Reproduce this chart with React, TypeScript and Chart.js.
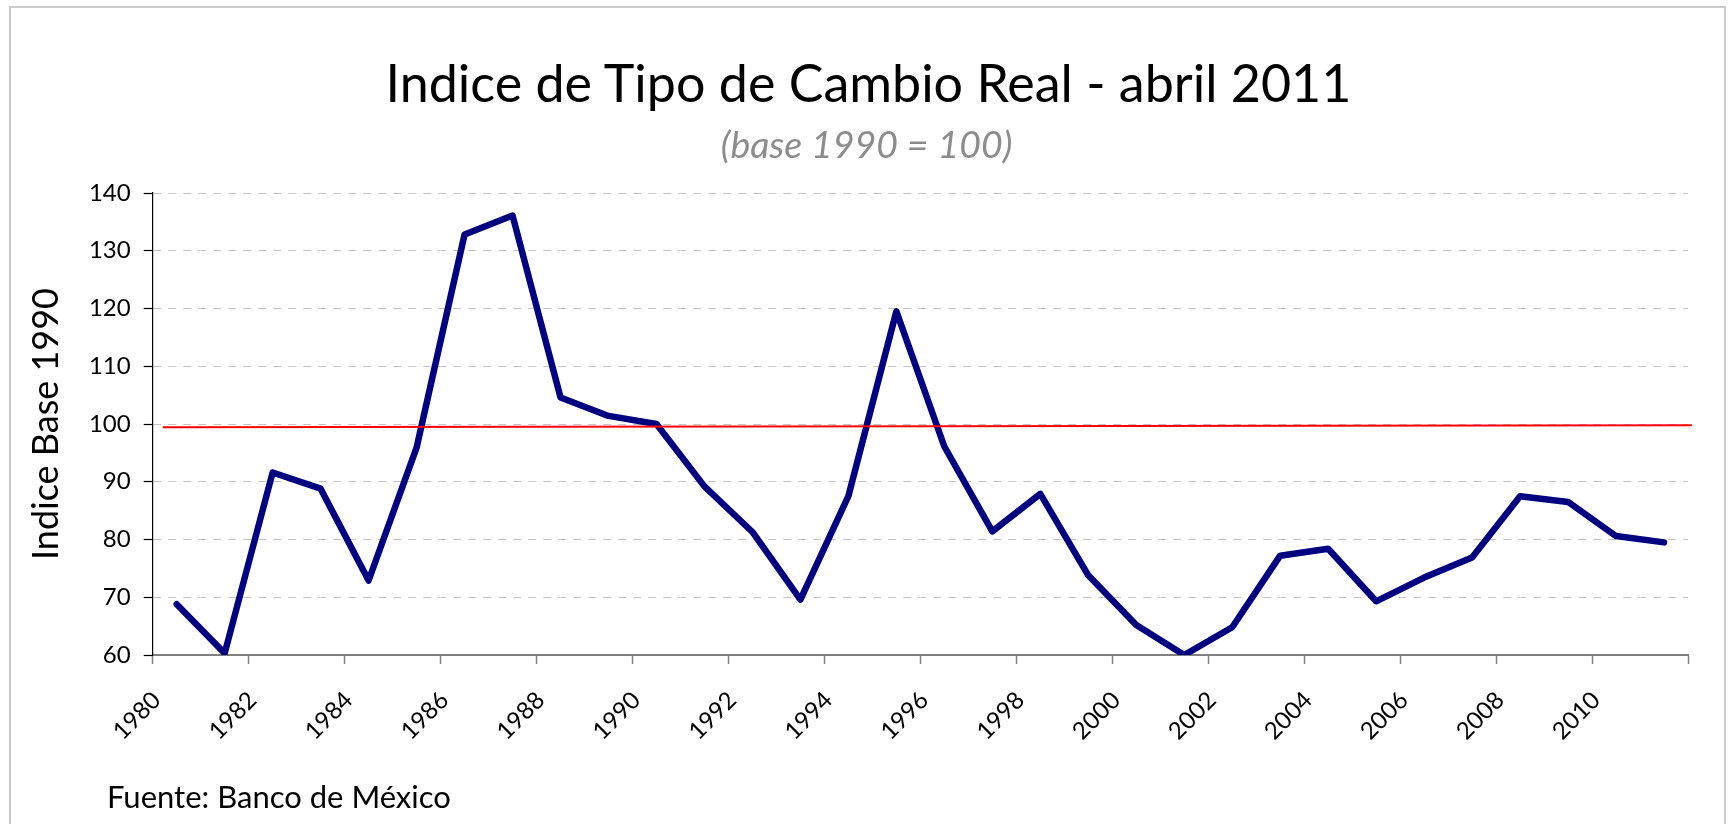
import React, { useEffect, useRef } from 'react';
import { Chart, registerables } from 'chart.js';

Chart.register(...registerables);

// ---- Data ----
const years: number[] = [
  1980, 1981, 1982, 1983, 1984, 1985, 1986, 1987, 1988, 1989,
  1990, 1991, 1992, 1993, 1994, 1995, 1996, 1997, 1998, 1999,
  2000, 2001, 2002, 2003, 2004, 2005, 2006, 2007, 2008, 2009,
  2010, 2011,
];
const indexValues: number[] = [
  68.8, 60.3, 91.6, 88.8, 72.9, 95.9, 132.8, 136.1, 104.6, 101.4,
  100.0, 89.2, 81.3, 69.6, 87.5, 119.5, 96.1, 81.4, 87.9, 73.8,
  65.2, 60.0, 64.8, 77.2, 78.4, 69.3, 73.4, 76.9, 87.5, 86.5,
  80.6, 79.5,
];
// reference line (base = 100)
const baseLineX: number[] = [1980.21, 2012.08];
const baseLineY: number[] = [99.45, 99.8];

// axis ticks
const xTickValues: number[] = [1980, 1982, 1984, 1986, 1988, 1990, 1992, 1994, 1996, 1998, 2000, 2002, 2004, 2006, 2008, 2010, 2012];
const yTickValues: number[] = [60, 70, 80, 90, 100, 110, 120, 130, 140];

const TITLE = 'Indice de Tipo de Cambio Real - abril 2011';
const SUBTITLE = '(base 1990 = 100)';
const Y_TITLE = 'Indice Base 1990';
const SOURCE = 'Fuente: Banco de México';

const FONT = 'Lato, "Open Sans", sans-serif';

export default function App() {
  const canvasRef = useRef<HTMLCanvasElement | null>(null);

  useEffect(() => {
    const canvas = canvasRef.current;
    if (!canvas) return;
    const xMin = xTickValues[0];
    const xMax = xTickValues[xTickValues.length - 1];
    const lastLabel = years[years.length - 1];

    const chart = new Chart(canvas, {
      type: 'line',
      data: {
        datasets: [
          {
            data: baseLineX.map((x, i) => ({ x, y: baseLineY[i] })),
            borderColor: '#ff0000',
            borderWidth: 2,
            pointRadius: 0,
            clip: false as any,
            order: 0,
          },
          {
            data: years.map((y, i) => ({ x: y + 0.5, y: indexValues[i] })),
            borderColor: '#000080',
            borderWidth: 6.5,
            pointRadius: 0,
            borderJoinStyle: 'round',
            borderCapStyle: 'round',
            tension: 0,
            order: 1,
          },
        ],
      },
      options: {
        responsive: false,
        animation: false,
        events: [],
        layout: { padding: { top: 193, left: 0, right: 1735 - 1688, bottom: 0 } },
        plugins: {
          legend: { display: false },
          tooltip: { enabled: false },
          title: { display: false },
        },
        scales: {
          x: {
            type: 'linear',
            min: xMin,
            max: xMax,
            afterFit: (s: any) => { s.height = 824 - 655; },
            afterBuildTicks: (s: any) => { s.ticks = xTickValues.map((v) => ({ value: v })); },
            ticks: {
              autoSkip: false,
              minRotation: 45,
              maxRotation: 45,
              padding: 22,
              labelOffset: 4,
              color: '#000000',
              font: { family: FONT, size: 24 },
              callback: (v: any) => (Number(v) > lastLabel ? '' : String(v)),
            },
            grid: {
              drawOnChartArea: false,
              tickLength: 9,
              tickColor: '#808080',
              tickWidth: 1.5,
            },
            border: { color: '#808080', width: 2 },
          },
          y: {
            min: yTickValues[0],
            max: yTickValues[yTickValues.length - 1],
            afterFit: (s: any) => { s.width = 152.7; },
            afterBuildTicks: (s: any) => { s.ticks = yTickValues.map((v) => ({ value: v })); },
            ticks: {
              padding: 13,
              color: '#000000',
              font: { family: FONT, size: 24 },
            },
            grid: {
              color: '#c4c4c4',
              lineWidth: 1,
              tickLength: 9,
              tickColor: '#000000',
              tickWidth: 1.2,
              tickBorderDash: [],
            },
            border: { color: '#000000', width: 1.2, dash: [8, 7] },
            title: {
              display: true,
              text: Y_TITLE,
              color: '#000000',
              font: { family: FONT, size: 36 },
              padding: { top: 25, bottom: 0 },
            },
          },
        },
      },
    });
    return () => chart.destroy();
  }, []);

  return (
    <div style={{ position: 'fixed', left: 0, top: 0, width: 1735, height: 824, background: '#ffffff', overflow: 'hidden', fontFamily: FONT }}>
      <div style={{ position: 'absolute', left: 9, top: 6, width: 1717, height: 900, border: '2px solid #cccccc', boxSizing: 'border-box' }} />
      <canvas ref={canvasRef} width={1735} height={824} style={{ position: 'absolute', left: 0, top: 0, width: 1735, height: 824 }} />
      <div style={{ position: 'absolute', left: 0, top: 56, width: 1737, textAlign: 'center', fontSize: 52, lineHeight: 1, color: '#000000', whiteSpace: 'nowrap' }}>{TITLE}</div>
      <div style={{ position: 'absolute', left: 0, top: 125, width: 1733, textAlign: 'center', fontSize: 37.5, lineHeight: 1, fontStyle: 'italic', color: '#8c8c8c', whiteSpace: 'nowrap' }}>{SUBTITLE}</div>
      <div style={{ position: 'absolute', left: 107, top: 781, fontSize: 31, lineHeight: 1, color: '#000000', whiteSpace: 'nowrap' }}>{SOURCE}</div>
    </div>
  );
}
